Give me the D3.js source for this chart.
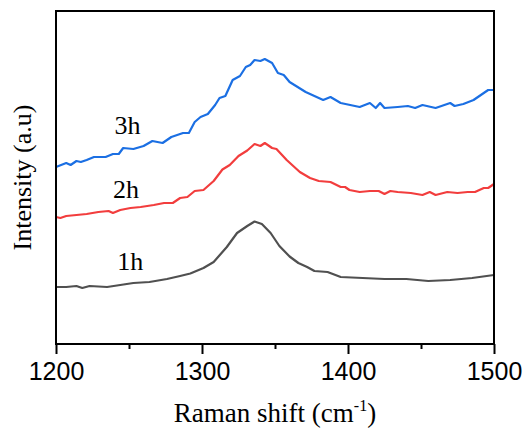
<!DOCTYPE html>
<html><head><meta charset="utf-8">
<script src="https://cdn.jsdelivr.net/npm/d3@7"></script>
<style>html,body{margin:0;padding:0;background:#fff;}</style>
</head><body>
<script>
const xTicks = [1200, 1300, 1400, 1500];
const xMinorTicks = [1250, 1350, 1450];
const seriesNames = ["1h", "2h", "3h"];
const seriesColors = ["#505050", "#f23d3d", "#1b6fe3"];

const shift1h = [1200,1207,1214,1218,1223,1235,1244,1253,1264,1276,1285,1292,1301,1308,1317,1324,1331,1336,1341,1347,1353,1360,1366,1372,1377,1386,1395,1410,1425,1440,1455,1470,1485,1500];
const int1h   = [57,57,58,56,58,57,59,61,62,65,68,70.5,76,82,97,111,118,122.5,120,111,98,87.5,81,77,73,72,67,66,65,65,63,64,66,69];

const shift2h = [1200,1203,1207,1214,1221,1229,1236,1239,1244,1251,1258,1267,1274,1280,1285,1290,1295,1301,1308,1314,1319,1325,1331,1336,1340,1343,1348,1351,1358,1367,1374,1380,1388,1395,1398,1401,1408,1415,1421,1425,1429,1434,1443,1451,1456,1460,1468,1475,1482,1487,1493,1496,1500];
const int2h   = [127,126,128,129,130,132,133,131,134,136,137,139,141,141,146,147,153,154,163,174.5,179,188,193.5,200,198,201,196,195,184,172,166,163,162,157,157,154,152,153,153,150,153,152,151,149,152,149,152,151,152,152,156,156,160];

const shift3h = [1200,1207,1210,1214,1217,1221,1226,1234,1239,1243,1246,1253,1260,1266,1273,1279,1287,1291,1295,1299,1304,1309,1312,1316,1321,1326,1330,1333,1336,1340,1343,1348,1352,1356,1360,1371,1383,1388,1395,1408,1415,1419,1422,1425,1434,1441,1446,1451,1460,1470,1473,1479,1486,1493,1496,1500];
const int3h   = [177,181,179,183,182,184,187,187,190,190,196,195,198,203,201,207,211,211,222,227,230,239,246,248,264,268,277,279,284,283,285,281,271,269,262,252,244,247,241,237,241,236,241,236,237,238,236,239,236,241,238,240,244,251,254,254];

const labelPos = [[1242,74],[1239,146],[1240,210]]; // [shift, intensity] where each label's text starts (baseline)

const W = 528, H = 430;
const m = {left:56, right:34, top:11, bottom:86};
const svg = d3.select("body").append("svg").attr("width", W).attr("height", H);

const x = d3.scaleLinear().domain([1200, 1500]).range([m.left, W - m.right]);
const y = d3.scaleLinear().domain([0, 333]).range([H - m.bottom, m.top]);

const series = [
  {name: seriesNames[0], color: seriesColors[0], xs: shift1h, ys: int1h},
  {name: seriesNames[1], color: seriesColors[1], xs: shift2h, ys: int2h},
  {name: seriesNames[2], color: seriesColors[2], xs: shift3h, ys: int3h}
];

const line = d3.line().x(d => x(d[0])).y(d => y(d[1]));
series.forEach((s, i) => {
  svg.append("path")
    .datum(s.xs.map((v, j) => [v, s.ys[j]]))
    .attr("d", line)
    .attr("fill", "none")
    .attr("stroke", s.color)
    .attr("stroke-width", 2.2)
    .attr("stroke-linejoin", "round");
  svg.append("text")
    .attr("x", x(labelPos[i][0]))
    .attr("y", y(labelPos[i][1]))
    .attr("font-family", "'Liberation Serif', 'Times New Roman', serif")
    .attr("font-size", 26)
    .attr("fill", "#000")
    .text(s.name);
});

// frame
svg.append("rect")
  .attr("x", m.left).attr("y", m.top)
  .attr("width", W - m.left - m.right).attr("height", H - m.top - m.bottom)
  .attr("fill", "none").attr("stroke", "#000").attr("stroke-width", 2);

// x axis
const xAxis = d3.axisBottom(x).tickValues(xTicks).tickSize(10).tickPadding(8).tickFormat(d3.format("d"));
const gx = svg.append("g").attr("transform", `translate(0,${H - m.bottom})`).call(xAxis);
gx.select(".domain").remove();
gx.selectAll(".tick line").attr("stroke", "#000").attr("stroke-width", 2);
gx.selectAll(".tick text")
  .attr("font-family", "'Liberation Sans', Arial, sans-serif")
  .attr("font-size", 25).attr("fill", "#000");

const xMinor = d3.axisBottom(x).tickValues(xMinorTicks).tickSize(5).tickFormat("");
const gm = svg.append("g").attr("transform", `translate(0,${H - m.bottom})`).call(xMinor);
gm.select(".domain").remove();
gm.selectAll(".tick line").attr("stroke", "#000").attr("stroke-width", 2);

// axis titles
const xt = svg.append("text")
  .attr("x", (m.left + W - m.right) / 2).attr("y", 422)
  .attr("text-anchor", "middle")
  .attr("font-family", "'Liberation Serif', 'Times New Roman', serif")
  .attr("font-size", 27).attr("fill", "#000");
xt.append("tspan").text("Raman shift (cm");
xt.append("tspan").attr("font-size", 16).attr("dy", -11).text("-1");
xt.append("tspan").attr("dy", 11).text(")");

svg.append("text")
  .attr("transform", `translate(31,${(m.top + H - m.bottom) / 2}) rotate(-90)`)
  .attr("text-anchor", "middle")
  .attr("font-family", "'Liberation Serif', 'Times New Roman', serif")
  .attr("font-size", 26).attr("fill", "#000")
  .text("Intensity (a.u)");
</script>
</body></html>
